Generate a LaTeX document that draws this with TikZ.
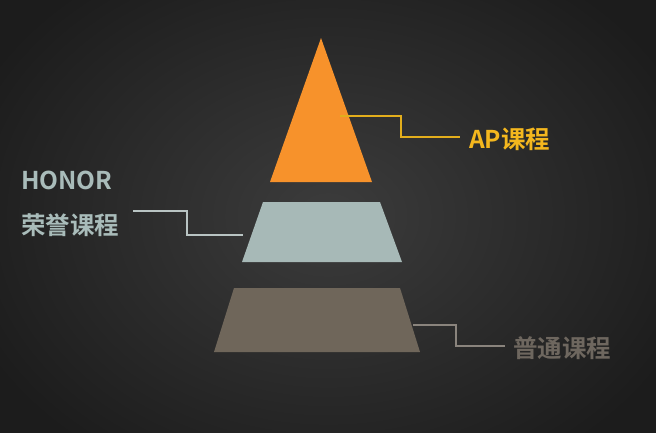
\documentclass[tikz,border=0pt]{standalone}
\usepackage{fontspec}
\setmainfont{Noto Sans CJK SC}[BoldFont={Noto Sans CJK SC Bold}]
\definecolor{bgin}{HTML}{3C3C3C}
\definecolor{bgout}{HTML}{1C1C1C}
\definecolor{apfill}{HTML}{F7922B}
\definecolor{aptext}{HTML}{F4B71E}
\definecolor{apline}{HTML}{E3AE1C}
\definecolor{hnfill}{HTML}{A7B9B7}
\definecolor{hntext}{HTML}{A9BCBA}
\definecolor{hnline}{HTML}{B9C4C3}
\definecolor{ptfill}{HTML}{6F665A}
\definecolor{pttext}{HTML}{6E675F}
\definecolor{ptline}{HTML}{8A847D}
\tikzset{
  lbl/.style={font=\bfseries\fontsize{24.5}{28}\selectfont, inner sep=0pt, anchor=west},
  conn/.style={line width=1.2pt},
}
\begin{document}
\begin{tikzpicture}[x=1pt,y=-1pt]
\useasboundingbox (0,0) rectangle (656,432);
\shade[inner color=bgin, outer color=bgout] (-60,-80) rectangle (716,512);
% shapes
\fill[apfill] (321,38) -- (372,182) -- (270,182) -- cycle;
\fill[hnfill] (263,202) -- (380,202) -- (402,262) -- (242,262) -- cycle;
\fill[ptfill] (234,288) -- (400,288) -- (420,352) -- (214,352) -- cycle;
% anchor points
\coordinate (apA) at (340,116);
\coordinate (apB) at (401,116);
\coordinate (apC) at (401,137);
\coordinate (apD) at (460,137);
\coordinate (hnA) at (133,211);
\coordinate (hnB) at (187,211);
\coordinate (hnC) at (187,235);
\coordinate (hnD) at (243,235);
\coordinate (ptA) at (413,325);
\coordinate (ptB) at (456,325);
\coordinate (ptC) at (456,346);
\coordinate (ptD) at (505,346);
% labels
\node[lbl, text=aptext] (ap) at (469,139) {AP课程};
\node[lbl, text=hntext] (honor) at (21,180) {HONOR};
\node[lbl, text=hntext] (hn) at (21,225) {荣誉课程};
\node[lbl, text=pttext] (pt) at (513,348) {普通课程};
% connectors
\draw[conn, apline] (apA) -- (apB) -- (apC) -- (apD);
\draw[conn, hnline] (hnA) -- (hnB) -- (hnC) -- (hnD);
\draw[conn, ptline] (ptA) -- (ptB) -- (ptC) -- (ptD);
\end{tikzpicture}
\end{document}
